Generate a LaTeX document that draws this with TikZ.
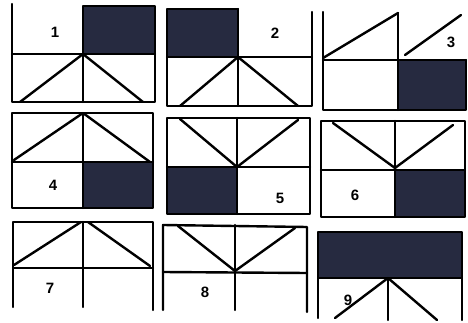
\documentclass[tikz,border=0pt]{standalone}
\usepackage{fontspec}
\setsansfont{Liberation Sans}
\definecolor{darkfill}{RGB}{38,42,64}
\tikzset{
  ln/.style={line width=2.4pt, line cap=round, line join=round},
  dk/.style={fill=darkfill},
  lab/.style={font=\sffamily\bfseries\fontsize{15}{17}\selectfont, inner sep=0pt}
}
\begin{document}
\begin{tikzpicture}[x=1pt,y=-1pt]
\useasboundingbox[fill=white] (0,0) rectangle (468,323);
% Panel 1
\fill[dk] (83,6) rectangle (155,54);
\draw[ln] (12,4) -- (12,102) -- (155,102) -- (155,6) -- (83,6) -- (83,102);
\draw[ln] (12,54) -- (155,54);
\draw[ln] (20,102) -- (83,54) -- (143,102);
\node[lab] (n1) at (55,32) {1};
% Panel 2
\fill[dk] (167,9) rectangle (238,57);
\draw[ln] (238,9) -- (167,9) -- (167,106) -- (312,106) -- (312,12);
\draw[ln] (238,9) -- (238,106);
\draw[ln] (167,57) -- (312,57);
\draw[ln] (180,106) -- (238,57) -- (298,106);
\node[lab] (n2) at (275,33) {2};
% Panel 3
\fill[dk] (398,60) rectangle (466,110);
\draw[ln] (323,12) -- (323,110) -- (466,110) -- (466,60);
\draw[ln] (323,60) -- (466,60);
\draw[ln] (398,13) -- (398,110);
\draw[ln] (323,58) -- (398,13);
\draw[ln] (405,55) -- (461,15);
\node[lab] (n3) at (451,42) {3};
% Panel 4
\fill[dk] (83,162) rectangle (153,208);
\draw[ln] (12,113) rectangle (153,208);
\draw[ln] (12,162) -- (153,162);
\draw[ln] (83,113) -- (83,208);
\draw[ln] (14,160) -- (83,113) -- (150,162);
\node[lab] (n4) at (53,185) {4};
% Panel 5
\fill[dk] (167,167) rectangle (237,214);
\draw[ln] (167,118) rectangle (310,214);
\draw[ln] (167,167) -- (310,167);
\draw[ln] (237,118) -- (237,214);
\draw[ln] (180,119) -- (237,167) -- (298,120);
\node[lab] (n5) at (280,198) {5};
% Panel 6
\fill[dk] (395,170) rectangle (465,217);
\draw[ln] (321,121) rectangle (465,217);
\draw[ln] (321,170) -- (465,170);
\draw[ln] (395,121) -- (395,217);
\draw[ln] (333,123) -- (395,168) -- (453,125);
\node[lab] (n6) at (355,195) {6};
% Panel 7
\draw[ln] (13,307) -- (13,222) -- (153,222) -- (153,310);
\draw[ln] (13,268) -- (153,268);
\draw[ln] (83,222) -- (83,307);
\draw[ln] (14,265) -- (81,222);
\draw[ln] (88,222) -- (150,266);
\node[lab] (n7) at (50,288) {7};
% Panel 8
\draw[ln] (163,310) -- (163,225) -- (307,227) -- (307,312);
\draw[ln] (163,272) -- (307,273);
\draw[ln] (235,225) -- (235,310);
\draw[ln] (178,226) -- (235,271) -- (295,228);
\node[lab] (n8) at (205,292) {8};
% Panel 9
\fill[dk] (318,232) rectangle (462,278);
\draw[ln] (318,232) rectangle (462,278);
\draw[ln] (318,278) -- (318,318);
\draw[ln] (462,278) -- (462,320);
\draw[ln] (388,278) -- (388,320);
\draw[ln] (335,318) -- (388,278) -- (437,320);
\node[lab] (n9) at (348,300) {9};
\end{tikzpicture}
\end{document}
